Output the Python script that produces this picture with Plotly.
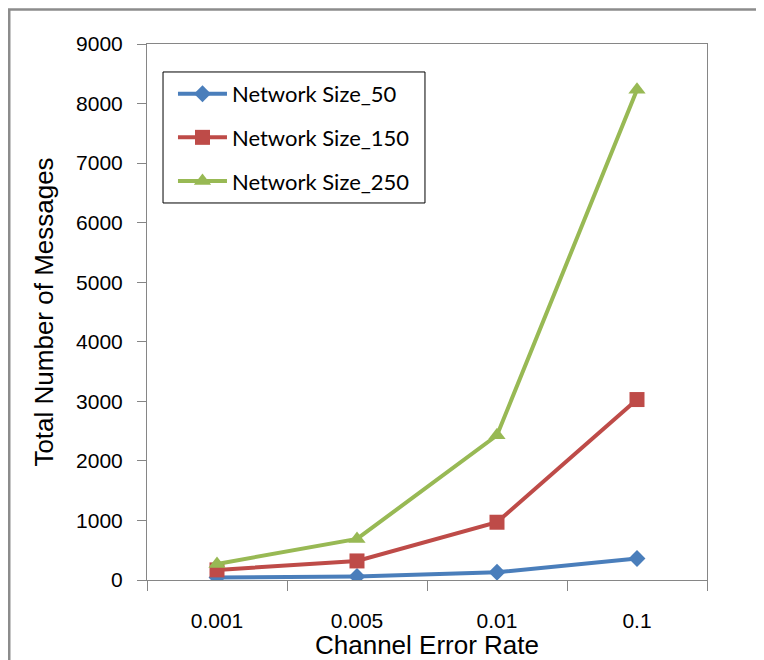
import plotly.graph_objects as go

categories = ["0.001", "0.005", "0.01", "0.1"]
size_50 = [40, 60, 130, 360]
size_150 = [170, 320, 970, 3030]
size_250 = [270, 690, 2430, 8230]
y_ticks = [0, 1000, 2000, 3000, 4000, 5000, 6000, 7000, 8000, 9000]

series = [
    ("Network Size_50", size_50, "#4A7EBB", "diamond", 13),
    ("Network Size_150", size_150, "#BE4B48", "square", 15),
    ("Network Size_250", size_250, "#98B954", "triangle-up", 15),
]

fig = go.Figure()
for i, (name, vals, color, sym, ms) in enumerate(series):
    fig.add_trace(go.Scatter(
        x=categories, y=vals, name=name, mode="lines+markers",
        line=dict(color=color, width=4),
        marker=dict(symbol=sym, size=ms, color=color),
        legendgroup=f"g{i}",
    ))

base = "Liberation Sans, Arial, sans-serif"
tick_font = dict(family=base, size=21, color="#000000")
title_font = dict(family=base, size=26, color="#000000")
fig.update_layout(
    width=756, height=652,
    margin=dict(l=139, r=57, t=36, b=80),
    paper_bgcolor="white", plot_bgcolor="white",
    showlegend=True,
    legend=dict(
        x=0.0464, y=0.946, xanchor="left", yanchor="top",
        borderwidth=0, bgcolor="rgba(0,0,0,0)",
        font=dict(family="Lato, Liberation Sans, sans-serif", size=22, color="#000000"),
        traceorder="grouped", tracegroupgap=12, itemwidth=49,
    ),
    xaxis=dict(
        type="category", range=[-0.5, 3.5], showgrid=False, showline=True,
        linecolor="#868686", linewidth=1, mirror=True, automargin=False,
        ticks="outside", tickson="boundaries", ticklen=10, tickcolor="#868686",
        tickfont=tick_font, ticklabelstandoff=22,
        title=dict(text="Channel Error Rate", font=title_font, standoff=5),
    ),
    yaxis=dict(
        range=[0, 9000], tickvals=y_ticks, showgrid=False, zeroline=False,
        showline=True, linecolor="#868686", linewidth=1, mirror=True, automargin=False,
        ticks="outside", ticklen=9, tickcolor="#868686", tickfont=tick_font,
        ticklabelstandoff=10,
        title=dict(text="Total Number of Messages", font=title_font, standoff=14),
    ),
)

# legend frame
fig.add_shape(type="rect", xref="paper", yref="paper",
              x0=0.0286, x1=0.4964, y0=0.7034, y1=0.9478,
              line=dict(color="#000000", width=1), fillcolor="white", layer="below")

# outer chart-area border (extends past right/bottom of the picture)
fig.add_shape(type="rect", xref="paper", yref="paper",
              x0=-0.246, x1=1.2, y0=-0.25, y1=1.0644,
              line=dict(color="#8C8C8C", width=2.5), layer="below")

fig.write_html("out.html")
